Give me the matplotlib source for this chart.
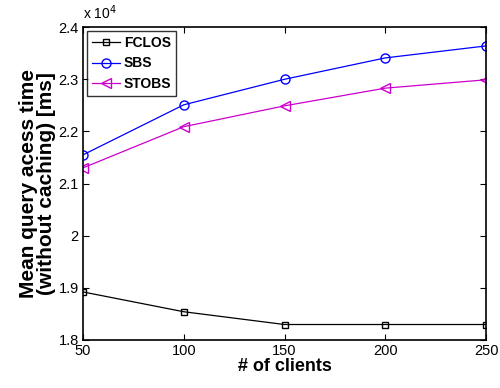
import matplotlib.pyplot as plt
from matplotlib.ticker import FuncFormatter

plt.rcParams['font.family'] = ['Liberation Sans', 'DejaVu Sans']

clients = [50, 100, 150, 200, 250]
fclos = [18920, 18540, 18295, 18295, 18295]
sbs = [21550, 22510, 23000, 23410, 23640]
stobs = [21300, 22090, 22490, 22830, 22990]

fig = plt.figure(figsize=(5, 3.88), dpi=100)
ax = fig.add_axes([0.166, 0.124, 0.806, 0.806])

ax.plot(clients, fclos, color='black', marker='s', mfc='none', ms=4.5, lw=0.9, label='FCLOS')
ax.plot(clients, sbs, color='blue', marker='o', mfc='none', ms=6.5, lw=0.9, label='SBS')
ax.plot(clients, stobs, color='#cc00cc', marker='<', mfc='none', ms=6.5, lw=0.9, label='STOBS')

ax.set_xlim(50, 250)
ax.set_ylim(18000, 24000)
ax.set_xticks(clients)
ax.set_yticks([18000, 19000, 20000, 21000, 22000, 23000, 24000])
ax.yaxis.set_major_formatter(FuncFormatter(lambda v, p: '%g' % (v / 1e4)))
ax.tick_params(direction='in', top=True, right=True, labelsize=10.5, length=4, width=0.8, pad=3)
for s in ax.spines.values():
    s.set_linewidth(1.2)

ax.text(0, 1.015, r'x 10$^{4}$', transform=ax.transAxes, fontsize=10, ha='left', va='bottom')

ax.set_xlabel('# of clients', fontsize=13, fontweight='bold', labelpad=0)
ax.set_ylabel('Mean query acess time\n(without caching) [ms]', fontsize=15,
              fontweight='bold', labelpad=2, linespacing=0.95)

leg = ax.legend(loc='upper left', prop={'weight': 'bold', 'size': 10},
                fancybox=False, edgecolor='black', handlelength=2.0,
                borderaxespad=0.3, labelspacing=0.45, handletextpad=0.3,
                borderpad=0.35)
leg.get_frame().set_linewidth(1.0)

fig.savefig('out.png', dpi=100)
